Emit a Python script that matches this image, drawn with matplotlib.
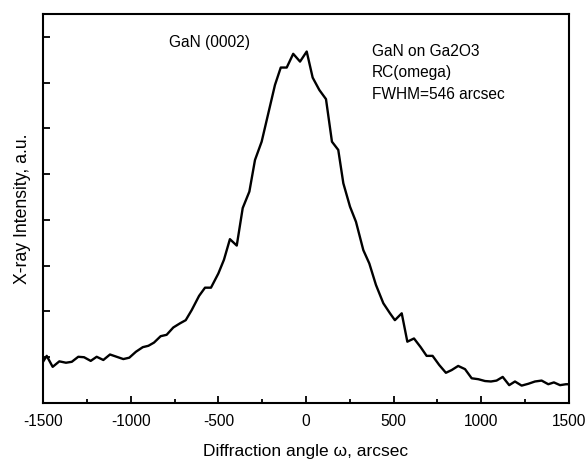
import matplotlib
matplotlib.use("Agg")
import matplotlib.pyplot as plt
from matplotlib.ticker import MultipleLocator, NullFormatter

plt.rcParams['font.family'] = ['Liberation Sans', 'DejaVu Sans']

# rocking curve (arcsec, arbitrary units)
angle = [-1500, -1479, -1445, -1407, -1369, -1336, -1299, -1266, -1228, -1194,
         -1156, -1118, -1080, -1042, -1008, -970, -931, -899, -867, -829,
         -795, -757, -719, -686, -652, -610, -576, -542, -500, -468,
         -434, -395, -361, -323, -291, -253, -215, -177, -144, -110,
         -73, -34, 4, 38, 76, 114, 148, 184, 213, 251,
         285, 327, 361, 399, 441, 479, 507, 546, 578, 616,
         654, 688, 722, 760, 798, 831, 868, 907, 945, 983,
         1021, 1055, 1087, 1122, 1159, 1192, 1230, 1268, 1306, 1344,
         1382, 1414, 1449, 1483, 1500]
intensity = [0.90, 1.03, 0.79, 0.91, 0.88, 0.90, 1.01, 1.00, 0.92, 1.01,
             0.94, 1.06, 1.01, 0.96, 0.99, 1.12, 1.22, 1.25, 1.32, 1.46,
             1.49, 1.65, 1.74, 1.81, 2.03, 2.34, 2.52, 2.52, 2.83, 3.13,
             3.58, 3.44, 4.26, 4.62, 5.31, 5.71, 6.33, 6.95, 7.33, 7.33,
             7.63, 7.46, 7.68, 7.11, 6.84, 6.64, 5.71, 5.53, 4.80, 4.29,
             3.96, 3.34, 3.05, 2.58, 2.18, 1.96, 1.81, 1.96, 1.34, 1.41,
             1.22, 1.03, 1.03, 0.83, 0.66, 0.72, 0.81, 0.74, 0.54, 0.52,
             0.48, 0.47, 0.49, 0.57, 0.39, 0.47, 0.38, 0.42, 0.47, 0.49,
             0.41, 0.45, 0.39, 0.41, 0.41]

xticks = [-1500, -1000, -500, 0, 500, 1000, 1500]
xticklabels = ["-1500", "-1000", "-500", "0", "500", "1000", "1500"]
yticks = [1, 2, 3, 4, 5, 6, 7, 8]

fig = plt.figure(figsize=(5.87, 4.59), dpi=100)
ax = fig.add_axes([0.0733, 0.122, 0.896, 0.8475])

ax.plot(angle, intensity, color="black", lw=1.7)

ax.set_xlim(-1500, 1500)
ax.set_ylim(0, 8.5)
ax.set_xticks(xticks)
ax.set_xticklabels(xticklabels, fontsize=11.2)
ax.xaxis.set_minor_locator(MultipleLocator(250))
ax.set_yticks(yticks)
ax.yaxis.set_major_formatter(NullFormatter())

ax.tick_params(axis="both", which="major", direction="in", length=5, width=1.3, pad=8)
ax.tick_params(axis="x", which="minor", direction="in", length=3, width=1.3)
ax.tick_params(top=False, right=False)
for s in ax.spines.values():
    s.set_linewidth(1.5)

ax.set_xlabel("Diffraction angle \u03c9, arcsec", fontsize=12.5, labelpad=11)
ax.set_ylabel("X-ray Intensity, a.u.", fontsize=12.7, labelpad=1)

ax.text(-548, 7.87, "GaN (0002)", fontsize=11.2, ha="center", va="center")
ax.text(376, 7.85, "GaN on Ga2O3\nRC(omega)\nFWHM=546 arcsec", fontsize=11.2,
        ha="left", va="top", linespacing=1.55)

fig.savefig("out.png", dpi=100)
